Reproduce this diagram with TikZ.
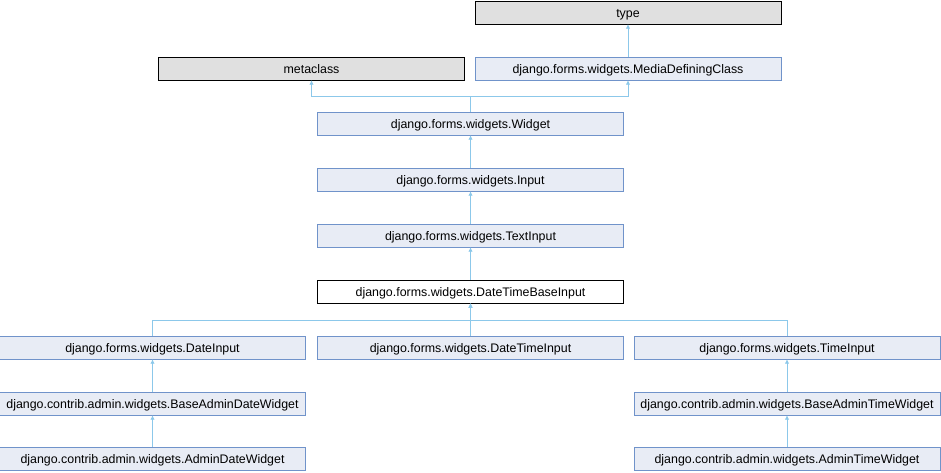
\documentclass[tikz,border=0pt]{standalone}
\usepackage{fontspec}
\setmainfont{Liberation Sans}
\usepackage{xcolor}
\usepackage{tikz}
\usetikzlibrary{arrows.meta}
\usetikzlibrary{positioning}

\definecolor{clsfill}{HTML}{E8ECF5}
\definecolor{clsdraw}{HTML}{7093CA}
\definecolor{extfill}{HTML}{E0E0E0}
\definecolor{edgecol}{HTML}{8CC8EA}

\begin{document}
\begin{tikzpicture}[x=1pt, y=-1pt,
		cls/.style={draw=clsdraw, fill=clsfill, minimum width=306pt, minimum height=23pt, inner sep=0pt,
			font=\fontsize{12.4}{14}\selectfont, text height=9pt, text depth=0pt},
		ext/.style={cls, draw=black, fill=extfill},
		cur/.style={cls, draw=black, fill=white},
		inh/.style={draw=edgecol, line width=0.9pt, -{Latex[length=4.5pt,width=4.5pt]}}]
		\useasboundingbox (0,0) rectangle (941,472);
		
		\node[ext] (type) at (628,12.5) {type};
		\node[ext] (metaclass) at (311.5,68.5) {metaclass};
		\node[cls] (mdc) at (628,68.5) {django.forms.widgets.MediaDefiningClass};
		\node[cls] (widget) at (470.5,123.5) {django.forms.widgets.Widget};
		\node[cls] (input) at (470.5,179.5) {django.forms.widgets.Input};
		\node[cls] (textinput) at (470.5,235.5) {django.forms.widgets.TextInput};
		\node[cur] (dtbase) at (470.5,291.5) {django.forms.widgets.DateTimeBaseInput};
		\node[cls] (dateinput) at (152.5,347.5) {django.forms.widgets.DateInput};
		\node[cls] (dtinput) at (470.5,347.5) {django.forms.widgets.DateTimeInput};
		\node[cls] (timeinput) at (787,347.5) {django.forms.widgets.TimeInput};
		\node[cls] (basedate) at (152.5,403.5) {django.contrib.admin.widgets.BaseAdminDateWidget};
		\node[cls] (basetime) at (787,403.5) {django.contrib.admin.widgets.BaseAdminTimeWidget};
		\node[cls] (admindate) at (152.5,458.5) {django.contrib.admin.widgets.AdminDateWidget};
		\node[cls] (admintime) at (787,458.5) {django.contrib.admin.widgets.AdminTimeWidget};
		
		\coordinate (wjoin) at (470.5,96.5);
		\coordinate (djoin) at (470.5,320);
		
		\draw[inh] (mdc) -- (type);
		\draw[inh] (widget.north) -- (wjoin) -| (metaclass.south);
		\draw[inh] (widget.north) -- (wjoin) -| (mdc.south);
		\draw[inh] (input) -- (widget);
		\draw[inh] (textinput) -- (input);
		\draw[inh] (dtbase) -- (textinput);
		\draw[inh] (dateinput.north) |- (djoin) -- (dtbase.south);
		\draw[inh] (dtinput) -- (dtbase);
		\draw[inh] (timeinput.north) |- (djoin) -- (dtbase.south);
		\draw[inh] (basedate) -- (dateinput);
		\draw[inh] (basetime) -- (timeinput);
		\draw[inh] (admindate) -- (basedate);
		\draw[inh] (admintime) -- (basetime);
		\end{tikzpicture}
\end{document}
